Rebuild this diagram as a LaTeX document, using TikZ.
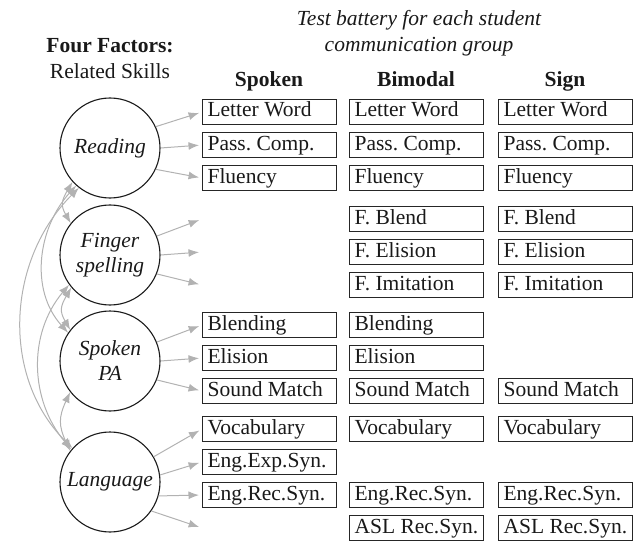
\documentclass[tikz,border=0pt]{standalone}
\usepackage{fontspec}
\setmainfont{Liberation Serif}
\usetikzlibrary{arrows.meta}
\newcommand{\tbx}[1]{\makebox[124pt][l]{#1}}
\begin{document}
\frenchspacing
\begin{tikzpicture}[x=1pt,y=1pt,
  every node/.style={font=\fontsize{21.5}{25}\selectfont, text=black!90},
  testbox/.style={draw=black!85, line width=1.1pt, minimum width=134pt, inner xsep=5pt,
    text height=15pt, text depth=5pt, inner ysep=2.5pt, anchor=west},
  factor/.style={circle, draw=black!90, line width=1.1pt, minimum size=100pt, inner sep=0pt,
    font=\fontsize{21.5}{25}\selectfont\itshape, align=center},
  head/.style={font=\fontsize{21.5}{25}\selectfont\bfseries, anchor=base},
  plain/.style={anchor=base},
  ital/.style={font=\fontsize{21.5}{25}\selectfont\itshape, anchor=base},
  load/.style={-{Latex[length=10.5pt,width=8pt]}, draw=black!30, line width=1pt, shorten >=3pt},
  cov/.style={{Latex[length=10.5pt,width=8pt]}-{Latex[length=10.5pt,width=8pt]}, draw=black!30, line width=1pt},
]
\useasboundingbox (0,0) rectangle (633,-543);

% headings
\node[head] (h1) at (110,-53) {Four Factors:};
\node[plain] (h2) at (110,-79) {Related Skills};
\node[ital] (t1) at (419,-26) {Test battery for each student};
\node[ital] (t2) at (419,-52) {communication group};
\node[head] (cS) at (269,-87) {Spoken};
\node[head] (cB) at (416,-87) {Bimodal};
\node[head] (cG) at (565,-87) {Sign};

% factors
\node[factor] (R) at (110,-148) {Reading};
\node[factor] (F) at (110,-255) {Finger\\spelling};
\node[factor] (P) at (110,-361) {Spoken\\PA};
\node[factor] (L) at (110,-482) {Language};

% Spoken column
\node[testbox] (sLW) at (202,-112) {\tbx{Letter Word}};
\node[testbox] (sPC) at (202,-145) {\tbx{Pass. Comp.}};
\node[testbox] (sFL) at (202,-178) {\tbx{Fluency}};
\node[testbox] (sBL) at (202,-325) {\tbx{Blending}};
\node[testbox] (sEL) at (202,-358) {\tbx{Elision}};
\node[testbox] (sSM) at (202,-391) {\tbx{Sound Match}};
\node[testbox] (sVO) at (202,-429) {\tbx{Vocabulary}};
\node[testbox] (sEE) at (202,-462) {\tbx{Eng.Exp.Syn.}};
\node[testbox] (sER) at (202,-495) {\tbx{Eng.Rec.Syn.}};

% Bimodal column
\node[testbox] (bLW) at (349,-112) {\tbx{Letter Word}};
\node[testbox] (bPC) at (349,-145) {\tbx{Pass. Comp.}};
\node[testbox] (bFL) at (349,-178) {\tbx{Fluency}};
\node[testbox] (bFB) at (349,-219) {\tbx{F. Blend}};
\node[testbox] (bFE) at (349,-252) {\tbx{F. Elision}};
\node[testbox] (bFI) at (349,-285) {\tbx{F. Imitation}};
\node[testbox] (bBL) at (349,-325) {\tbx{Blending}};
\node[testbox] (bEL) at (349,-358) {\tbx{Elision}};
\node[testbox] (bSM) at (349,-391) {\tbx{Sound Match}};
\node[testbox] (bVO) at (349,-429) {\tbx{Vocabulary}};
\node[testbox] (bER) at (349,-495) {\tbx{Eng.Rec.Syn.}};
\node[testbox] (bAS) at (349,-528) {\tbx{ASL Rec.Syn.}};

% Sign column
\node[testbox] (gLW) at (498,-112) {\tbx{Letter Word}};
\node[testbox] (gPC) at (498,-145) {\tbx{Pass. Comp.}};
\node[testbox] (gFL) at (498,-178) {\tbx{Fluency}};
\node[testbox] (gFB) at (498,-219) {\tbx{F. Blend}};
\node[testbox] (gFE) at (498,-252) {\tbx{F. Elision}};
\node[testbox] (gFI) at (498,-285) {\tbx{F. Imitation}};
\node[testbox] (gSM) at (498,-391) {\tbx{Sound Match}};
\node[testbox] (gVO) at (498,-429) {\tbx{Vocabulary}};
\node[testbox] (gER) at (498,-495) {\tbx{Eng.Rec.Syn.}};
\node[testbox] (gAS) at (498,-528) {\tbx{ASL Rec.Syn.}};

% free arrow ends
\coordinate (cFB) at (202,-219);
\coordinate (cFE) at (202,-252);
\coordinate (cFI) at (202,-285);
\coordinate (cAS) at (202,-528);

% loadings
\draw[load] (R.25) -- (sLW.west);
\draw[load] (R.0) -- (sPC.west);
\draw[load] (R.-25) -- (sFL.west);
\draw[load] (F.22) -- (cFB);
\draw[load] (F.0) -- (cFE);
\draw[load] (F.-22) -- (cFI);
\draw[load] (P.22) -- (sBL.west);
\draw[load] (P.0) -- (sEL.west);
\draw[load] (P.-22) -- (sSM.west);
\draw[load] (L.30) -- (sVO.west);
\draw[load] (L.8) -- (sEE.west);
\draw[load] (L.-16) -- (sER.west);
\draw[load] (L.-35) -- (cAS);

% covariances
\draw[cov] (R.222) to[out=240,in=120,looseness=1.3] (F.141);
\draw[cov] (F.220) to[out=240,in=120,looseness=1.3] (P.142);
\draw[cov] (P.218) to[out=245,in=115,looseness=1.2] (L.142);
\draw[cov] (R.228) to[out=228,in=132] (P.146);
\draw[cov] (F.216) to[out=230,in=130] (L.140);
\draw[cov] (R.232) to[out=225,in=135] (L.138);
\end{tikzpicture}
\end{document}
